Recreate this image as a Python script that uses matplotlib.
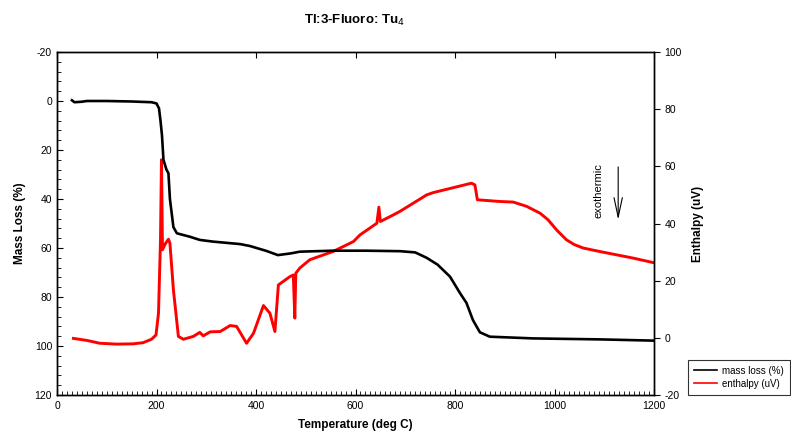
import matplotlib
matplotlib.use("Agg")
import matplotlib.pyplot as plt
from matplotlib.ticker import MultipleLocator

plt.rcParams['font.family'] = ['Liberation Sans', 'DejaVu Sans']
plt.rcParams['axes.unicode_minus'] = False

# Mass loss (%) vs temperature (deg C)
mass_T = [30, 35, 50, 60, 100, 150, 190, 200, 205, 208, 211, 214, 220, 224,
          227, 234, 241, 267, 287, 314, 368, 388, 421, 444, 470, 488, 555,
          620, 690, 720, 743, 765, 790, 810, 823, 836, 850, 870, 957, 1091, 1198]
mass_loss = [-0.3, 0.5, 0.3, 0.0, 0.0, 0.2, 0.5, 1.0, 3.0, 8.0, 14.0, 24.0,
             28.0, 29.5, 40.0, 51.5, 54.0, 55.4, 56.7, 57.4, 58.4, 59.2, 61.2,
             62.9, 62.2, 61.5, 61.1, 61.1, 61.3, 61.8, 64.0, 66.8, 71.7, 78.4,
             82.4, 89.4, 94.4, 96.2, 96.9, 97.3, 97.8]

# Enthalpy (uV) vs temperature (deg C)
enth_T = [33, 60, 86, 120, 153, 173, 190, 199, 204, 208, 210, 212, 218, 224,
          227, 234, 244, 254, 274, 287, 294, 308, 328, 348, 361, 381, 395,
          415, 428, 438, 445, 468, 475, 478, 480, 488, 508, 519, 555, 596,
          609, 643, 647, 650, 676, 689, 743, 756, 833, 840, 845, 890, 917,
          944, 971, 987, 1005, 1024, 1040, 1058, 1091, 1158, 1199]
enthalpy = [-0.2, -0.9, -1.9, -2.2, -2.1, -1.7, -0.5, 1.0, 8.6, 34.0, 62.3,
            30.8, 33.0, 34.5, 33.1, 16.8, 0.5, -0.5, 0.5, 1.9, 0.7, 2.1, 2.2,
            4.3, 4.0, -1.9, 1.6, 11.3, 8.6, 2.2, 18.5, 21.4, 22.0, 6.9, 22.6,
            24.4, 27.3, 28.0, 30.2, 33.7, 36.0, 40.1, 45.7, 40.7, 43.0, 44.2,
            50.0, 50.8, 54.1, 53.5, 48.3, 47.7, 47.5, 46.0, 43.6, 41.3, 37.6,
            34.3, 32.6, 31.4, 30.2, 27.9, 26.3]

fig = plt.figure(figsize=(7.91, 4.34), dpi=100)
ax = fig.add_axes([57 / 791, 1 - 395 / 434, (654 - 57) / 791, (395 - 52) / 434])
ax2 = ax.twinx()

l1, = ax.plot(mass_T, mass_loss, color='black', lw=1.9, label='mass loss (%)')
l2, = ax2.plot(enth_T, enthalpy, color='#ff0000', lw=2.1, label='enthalpy (uV)')
ax.set_zorder(ax2.get_zorder() + 1)
ax.patch.set_visible(False)

ax.set_xlim(0, 1200)
ax.set_ylim(120, -20)
ax2.set_ylim(-20, 100)

ax.xaxis.set_major_locator(MultipleLocator(200))
ax.xaxis.set_minor_locator(MultipleLocator(10))
ax.yaxis.set_major_locator(MultipleLocator(20))
ax.yaxis.set_minor_locator(MultipleLocator(4))
ax2.yaxis.set_major_locator(MultipleLocator(20))

ax.tick_params(axis='x', which='major', direction='in', length=4, top=True,
               labelsize=7.5, width=0.8, pad=4)
ax.tick_params(axis='x', which='minor', direction='in', length=3, top=False,
               width=0.6)
ax.tick_params(axis='y', which='major', direction='in', length=4, labelsize=7.5,
               width=0.8)
ax.tick_params(axis='y', which='minor', direction='in', length=3, width=0.6)
ax2.tick_params(axis='y', which='major', direction='out', length=4,
                labelsize=7.5, width=0.8)

for a in (ax, ax2):
    for s in a.spines.values():
        s.set_linewidth(1.0)

ax.set_xlabel('Temperature (deg C)', fontsize=8.5, fontweight='bold', labelpad=6)
ax.set_ylabel('Mass Loss (%)', fontsize=8.5, fontweight='bold', labelpad=6)
ax2.set_ylabel('Enthalpy (uV)', fontsize=8.5, fontweight='bold', labelpad=7)

fig.text(354 / 791, 1 - 20 / 434, 'Tl:3-Fluoro: Tu$_4$', ha='center',
         va='center', fontsize=9.5, fontweight='bold')

# exothermic direction marker
ax2.text(1089, 51.4, 'exothermic', rotation=90, ha='center', va='center',
         fontsize=8)
ax2.annotate('', xy=(1128, 41.3), xytext=(1128, 59.8),
             arrowprops=dict(arrowstyle='->,head_length=1.4,head_width=0.3',
                             color='black', lw=0.8, shrinkA=0, shrinkB=0))

leg = fig.legend(handles=[l1, l2], loc='upper left',
                 bbox_to_anchor=(688 / 791, 1 - 360 / 434), fontsize=7,
                 frameon=True, fancybox=False, borderpad=0.6,
                 handlelength=2.4, handletextpad=0.5, labelspacing=0.3,
                 borderaxespad=0)
leg.get_frame().set_edgecolor('black')
leg.get_frame().set_linewidth(0.8)
for ln in leg.get_lines():
    ln.set_linewidth(1.2)

fig.savefig('out.png', dpi=100)
